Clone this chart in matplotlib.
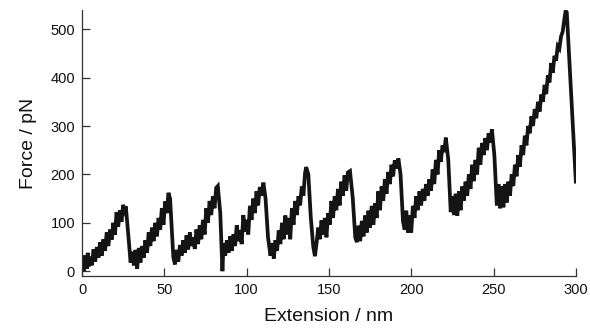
import matplotlib
matplotlib.use("Agg")
import matplotlib.pyplot as plt

plt.rcParams['font.family'] = ['Liberation Sans', 'DejaVu Sans']

# Extension (nm) and force (pN)
ext = [0, 0.5, 1, 2, 3, 3.5, 4, 5, 6, 7, 8, 9, 10, 11, 12, 13, 14, 15, 16, 17, 18, 19, 20, 21, 22, 23, 24, 25, 26,
       26.6, 28.5, 29.5, 30.5, 31.5, 32.5, 33.5, 34.5, 35.5, 36.5, 37.5,
       38.5, 39.5, 40.5, 41.5, 42.5, 43.5, 44.5, 45.5, 46.5, 47.5, 48.5, 49.5, 50.5, 51.5, 52.5,
       53.5, 55.5, 56.5,
       57.5, 58.5, 59.5, 60.5, 61.5, 62.5, 63.5, 64.5, 65.5, 66.5, 67.5, 68.5, 69.5, 70.5, 71.5, 72.5, 73.5, 74.5,
       75.5, 76.5, 77.5, 78.5, 79.5, 80.5, 81.5, 82.5,
       84, 85.3, 86,
       87, 88, 89, 90, 91, 92, 93, 94, 95, 96, 97, 98, 99, 100, 101, 102, 103, 104, 105, 106, 107, 108, 109, 110.2,
       111.5, 113, 114.5, 115.5, 116.5, 117.5,
       118.5, 119.5, 120.5, 121.5, 122.5, 123.5, 124.5, 125.5, 126.5, 127.5, 128.5, 129.5, 130.5, 131.5, 132.5,
       133.5, 134.5, 135.5, 136.2,
       137.5, 139, 140.5, 141.5, 142.5,
       143.5, 144.5, 145.5, 146.5, 147.5, 148.5, 149.5, 150.5, 151.5, 152.5, 153.5, 154.5, 155.5, 156.5, 157.5,
       158.5, 159.5, 160.5, 161.5, 162.8,
       164.5, 166, 167, 168, 169, 170,
       171, 172, 173, 174, 175, 176, 177, 178, 179, 180, 181, 182, 183, 184, 185, 186, 187, 188, 189, 190, 191, 192.2,
       193.5, 195, 196, 197, 198, 199, 200, 201,
       202, 203, 204, 205, 206, 207, 208, 209, 210, 211, 212, 213, 214, 215, 216, 217, 218, 219, 220, 221,
       222.5, 224, 225, 226, 227, 228, 229, 230,
       231, 232, 233, 234, 235, 236, 237, 238, 239, 240, 241, 242, 243, 244, 245, 246, 247, 248, 249,
       250.5, 252, 253, 254, 255, 256, 257, 258, 259, 260,
       261, 262, 263, 264, 265, 266, 267, 268, 269, 270, 271, 272, 273, 274, 275, 276, 277, 278, 279, 280,
       281, 282, 283, 284, 285, 286, 287, 288, 289, 290, 291, 292, 293, 293.8,
       294.5, 300]

force = [5, 28, 0, 33, 5, 38, 10, 30, 12, 45, 20, 50, 28, 60, 32, 66, 42, 80, 52, 86, 65, 100, 75, 122, 92, 126, 102, 137, 126,
         134, 60, 18, 40, 12, 44, 5, 48, 18, 52, 28,
         64, 38, 80, 52, 90, 62, 100, 72, 110, 86, 130, 96, 144, 120, 162,
         150, 28, 14,
         44, 20, 54, 32, 64, 38, 74, 45, 80, 52, 70, 46, 86, 56, 95, 66, 106, 76,
         130, 100, 145, 116, 155, 130, 172, 176,
         120, 0, 58,
         32, 64, 38, 72, 42, 76, 52, 95, 62, 85, 56, 116, 82, 106, 76, 135, 106, 150, 120, 165, 136, 174, 156, 183,
         150, 70, 32, 58, 26, 64,
         42, 84, 56, 100, 66, 115, 76, 110, 66, 130, 96, 145, 116, 155, 136,
         175, 156, 203, 215,
         200, 110, 50, 31, 58,
         90, 66, 105, 76, 110, 70, 120, 96, 145, 110, 155, 126, 170, 136, 185,
         156, 198, 166, 204, 207,
         150, 70, 60, 94, 62, 104,
         72, 115, 80, 125, 90, 135, 96, 140, 110, 165, 126, 175, 146, 190, 160, 205, 180, 220, 196, 229, 212, 233,
         200, 103, 86, 125, 80, 115, 80, 135,
         110, 155, 126, 165, 136, 170, 146, 180, 156, 190, 166, 210, 180, 230, 200, 250, 226, 260, 246, 276,
         230, 122, 155, 116, 160, 115, 165, 126,
         175, 146, 185, 156, 200, 170, 220, 186, 230, 200, 255, 220, 265, 240, 275, 250, 285, 266, 293,
         240, 136, 180, 130, 175, 132, 180, 142, 185, 156,
         200, 176, 220, 196, 240, 216, 260, 240, 280, 260, 300, 285, 320, 300, 335, 316, 350, 330, 365, 350,
         385, 366, 405, 390, 430, 410, 445, 435, 465, 460, 485, 495, 520, 538,
         535, 185]

x_ticks = [0, 50, 100, 150, 200, 250, 300]
y_ticks = [0, 100, 200, 300, 400, 500]

fig = plt.figure(figsize=(5.9, 3.29), dpi=100)
ax = fig.add_axes([0.139, 0.161, 0.837, 0.809])
ax.plot(ext, force, color='#141414', lw=2.7, solid_joinstyle='miter')

ax.set_xlim(0, 300)
ax.set_ylim(-10, 540)
ax.set_xticks(x_ticks)
ax.set_yticks(y_ticks)
for s in ['top', 'right']:
    ax.spines[s].set_visible(False)
for s in ['left', 'bottom']:
    ax.spines[s].set_color('#333333')
    ax.spines[s].set_linewidth(0.9)
ax.tick_params(direction='in', length=5.5, width=0.9, color='#333333',
               labelsize=10.5, labelcolor='#111111', pad=5)
ax.set_xlabel('Extension / nm', fontsize=14, color='#111111', labelpad=8)
ax.set_ylabel('Force / pN', fontsize=14, color='#111111', labelpad=10)

fig.savefig('out.png', dpi=100)
